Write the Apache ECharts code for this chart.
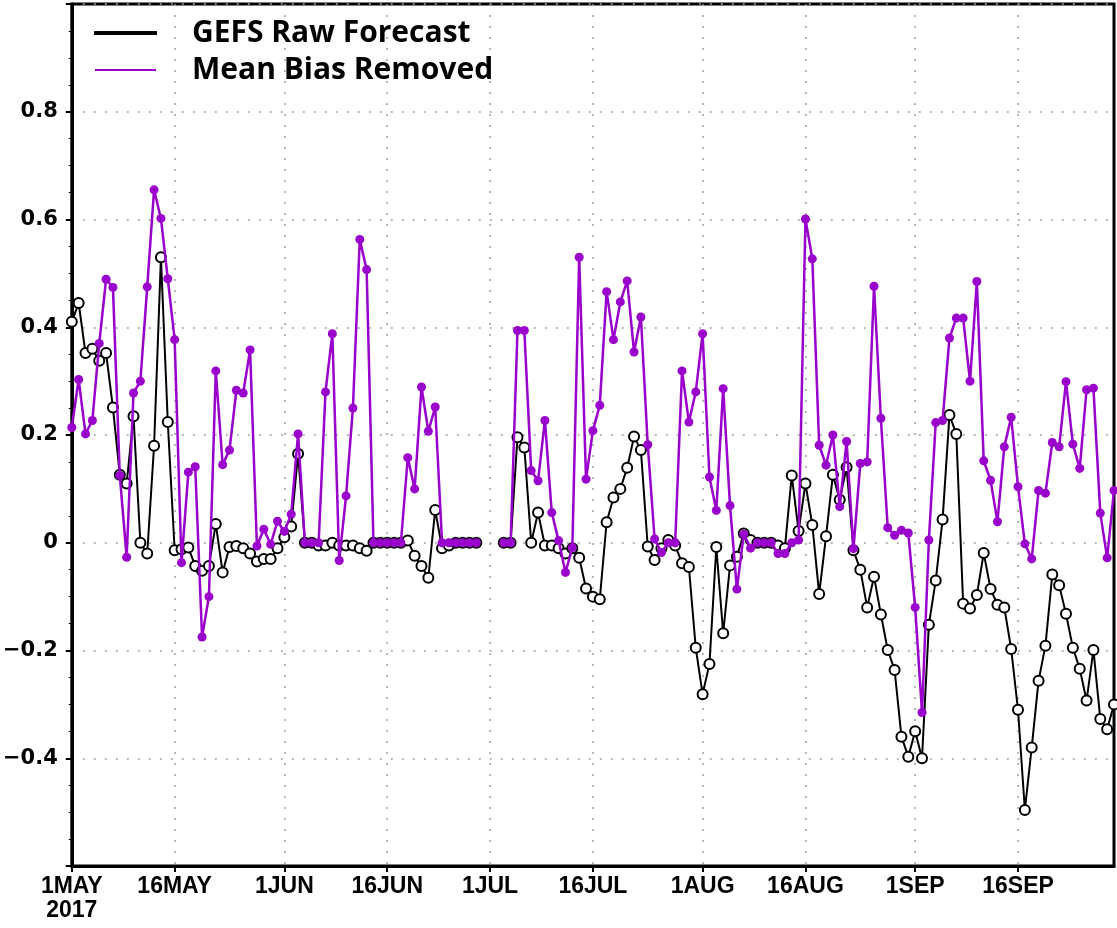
<!DOCTYPE html>
<html>
<head>
<meta charset="utf-8">
<script src="https://cdn.jsdelivr.net/npm/echarts@6/dist/echarts.min.js"></script>
<style>
html,body{margin:0;padding:0;background:#fff;}
#chart{width:1117px;height:928px;}
</style>
</head>
<body>
<div id="chart"></div>
<script>
// Months shown on the x axis (May 1 .. Sep 30, 2017), one category per day
var months = [['MAY', 31], ['JUN', 30], ['JUL', 31], ['AUG', 31], ['SEP', 30]];
var year = '2017';
var tickDays = [1, 16];
var yTickLabels = ['-0.4', '-0.2', '0', '0.2', '0.4', '0.6', '0.8'];
var seriesNames = ['GEFS Raw Forecast', 'Mean Bias Removed'];

// GEFS raw forecast, daily values (null = missing)
var rawForecast = [
  0.41, 0.445, 0.352, 0.36, 0.338, 0.352, 0.251, 0.126, 0.11, 0.235,
  0.0, -0.02, 0.18, 0.53, 0.224, -0.014, -0.012, -0.009, -0.043, -0.052,
  -0.043, 0.035, -0.055, -0.008, -0.006, -0.01, -0.02, -0.035, -0.03, -0.03,
  -0.01, 0.01, 0.03, 0.165, 0.0, 0.0, -0.005, -0.005, 0.0, -0.005,
  -0.005, -0.005, -0.01, -0.015, 0.0, 0.0, 0.0, 0.0, 0.0, 0.004,
  -0.024, -0.043, -0.065, 0.061, -0.01, -0.005, 0.0, 0.0, 0.0, 0.0,
  null, null, null, 0.0, 0.0, 0.196, 0.177, 0.0, 0.056, -0.005,
  -0.005, -0.01, -0.02, -0.01, -0.028, -0.085, -0.1, -0.105, 0.038, 0.084,
  0.1, 0.139, 0.197, 0.172, -0.007, -0.032, -0.01, 0.005, -0.005, -0.038,
  -0.045, -0.195, -0.281, -0.225, -0.008, -0.168, -0.042, -0.026, 0.017, 0.005,
  0.0, 0.0, 0.0, -0.005, -0.01, 0.125, 0.022, 0.11, 0.033, -0.095,
  0.012, 0.126, 0.08, 0.14, -0.014, -0.05, -0.12, -0.063, -0.133, -0.199,
  -0.236, -0.36, -0.397, -0.35, -0.40, -0.152, -0.07, 0.043, 0.237, 0.202,
  -0.113, -0.122, -0.097, -0.019, -0.086, -0.115, -0.12, -0.197, -0.31, -0.496,
  -0.38, -0.256, -0.191, -0.059, -0.079, -0.132, -0.195, -0.234, -0.293, -0.199,
  -0.327, -0.346, -0.30
];

// Mean bias removed, daily values (null = missing)
var biasRemoved = [
  0.214, 0.303, 0.202, 0.227, 0.37, 0.489, 0.474, 0.125, -0.027, 0.278,
  0.30, 0.475, 0.655, 0.602, 0.49, 0.377, -0.037, 0.131, 0.141, -0.175,
  -0.1, 0.319, 0.145, 0.172, 0.283, 0.278, 0.358, -0.006, 0.025, -0.003,
  0.04, 0.021, 0.053, 0.202, 0.0, 0.0, 0.0, 0.28, 0.388, -0.033,
  0.087, 0.25, 0.563, 0.507, 0.0, 0.0, 0.0, 0.0, 0.0, 0.158,
  0.1, 0.289, 0.207, 0.252, 0.0, 0.0, 0.0, 0.0, 0.0, 0.0,
  null, null, null, 0.0, 0.0, 0.394, 0.394, 0.134, 0.115, 0.227,
  0.056, 0.004, -0.055, -0.009, 0.53, 0.118, 0.208, 0.255, 0.466, 0.377,
  0.447, 0.486, 0.354, 0.419, 0.182, 0.007, -0.018, 0.0, 0.0, 0.319,
  0.224, 0.28, 0.388, 0.122, 0.06, 0.286, 0.069, -0.086, 0.016, -0.01,
  0.0, 0.0, 0.0, -0.02, -0.02, 0.0, 0.005, 0.601, 0.527, 0.181,
  0.144, 0.2, 0.067, 0.188, -0.011, 0.147, 0.15, 0.476, 0.231, 0.028,
  0.014, 0.023, 0.018, -0.12, -0.315, 0.005, 0.223, 0.227, 0.38, 0.417,
  0.417, 0.30, 0.485, 0.152, 0.116, 0.039, 0.178, 0.233, 0.104, -0.002,
  -0.03, 0.097, 0.092, 0.186, 0.178, 0.299, 0.183, 0.138, 0.284, 0.287,
  0.055, -0.028, 0.097
];

// Build day categories like "1MAY"
var categories = [];
var dayOfMonth = [];
months.forEach(function (m) {
  for (var d = 1; d <= m[1]; d++) {
    categories.push(d + m[0]);
    dayOfMonth.push(d);
  }
});

function isTick(index) {
  return tickDays.indexOf(dayOfMonth[index]) >= 0;
}

var chart = echarts.init(document.getElementById('chart'), null, { renderer: 'canvas' });

var purple = '#9900cc';
var gridDots = { color: '#a0a0a0', type: [2, 9], width: 1.5 };

var option = {
  animation: false,
  backgroundColor: '#ffffff',
  grid: {
    left: 68, right: 3, top: 4, bottom: 62,
    show: true, borderColor: '#000', borderWidth: 3, containLabel: false
  },
  legend: {
    orient: 'vertical',
    left: 94,
    top: 18,
    padding: 0,
    itemGap: 7,
    itemWidth: 61,
    itemHeight: 2,
    icon: 'rect',
    data: [
      { name: seriesNames[0], itemStyle: { color: '#000' } },
      { name: seriesNames[1], itemStyle: { color: purple } }
    ],
    textStyle: {
      fontFamily: 'Open Sans',
      fontWeight: 'bold',
      fontSize: 30,
      lineHeight: 30,
      color: '#000',
      padding: [0, 0, 0, 31]
    }
  },
  xAxis: {
    type: 'category',
    data: categories,
    boundaryGap: false,
    axisLine: { onZero: false, lineStyle: { color: '#000', width: 3 } },
    axisTick: {
      interval: function (i) { return isTick(i); },
      length: 6, lineStyle: { color: '#000', width: 2 }
    },
    axisLabel: {
      interval: function (i) { return isTick(i); },
      formatter: function (v, i) { return i === 0 ? v + '\n' + year : v; },
      fontFamily: '"Liberation Sans", Arial, sans-serif',
      fontWeight: 'bold',
      fontSize: 23,
      lineHeight: 24,
      color: '#000',
      margin: 9
    },
    splitLine: {
      show: true,
      interval: function (i) { return isTick(i) && i !== 0; },
      lineStyle: gridDots
    }
  },
  yAxis: {
    type: 'value',
    min: -0.6,
    max: 1.0,
    interval: 0.2,
    axisLine: { show: true, onZero: false, lineStyle: { color: '#000', width: 3 } },
    axisTick: { show: true, length: 6, lineStyle: { color: '#000', width: 2 } },
    minorTick: { show: true, splitNumber: 4, length: 3, lineStyle: { color: '#000', width: 1 } },
    axisLabel: {
      formatter: function (v) {
        var s = (Math.round(v * 10) / 10).toString();
        return yTickLabels.indexOf(s) >= 0 ? s.replace('-', '\u2212') : '';
      },
      fontFamily: '"DejaVu Sans", sans-serif',
      fontWeight: 'bold',
      fontSize: 21,
      color: '#000',
      margin: 14
    },
    splitLine: {
      show: true,
      lineStyle: gridDots
    }
  },
  series: [
    {
      name: seriesNames[0],
      type: 'line',
      data: rawForecast,
      connectNulls: false,
      symbol: 'circle',
      symbolSize: 10,
      showAllSymbol: true,
      lineStyle: { color: '#000', width: 2 },
      itemStyle: { color: '#fff', borderColor: '#000', borderWidth: 2 },
      z: 2
    },
    {
      name: seriesNames[1],
      type: 'line',
      data: biasRemoved,
      connectNulls: false,
      symbol: 'circle',
      symbolSize: 9,
      showAllSymbol: true,
      lineStyle: { color: purple, width: 2.5 },
      itemStyle: { color: purple, borderColor: purple, borderWidth: 0 },
      z: 3
    }
  ]
};

chart.setOption(option);
</script>
</body>
</html>
